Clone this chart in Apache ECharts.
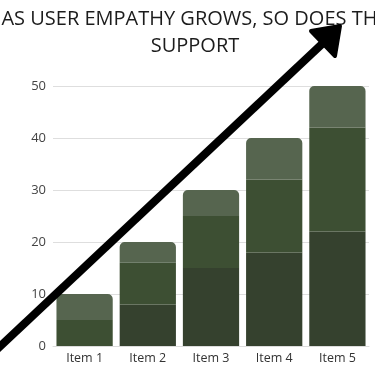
<!DOCTYPE html>
<html>
<head>
<meta charset="utf-8">
<script src="https://cdn.jsdelivr.net/npm/echarts@6/dist/echarts.min.js"></script>
<style>html,body{margin:0;padding:0;background:#fff}#c{width:375px;height:366px}</style>
</head>
<body>
<div id="c"></div>
<script>
const categories = ['Item 1', 'Item 2', 'Item 3', 'Item 4', 'Item 5'];
const seriesBottom = [0, 8, 15, 18, 22];
const seriesMiddle = [5, 8, 10, 14, 20];
const seriesTop = [5, 4, 5, 8, 8];
const yTicks = [0, 10, 20, 30, 40, 50];
const titleText = 'AS USER EMPATHY GROWS, SO DOES THE\nSUPPORT';

const chart = echarts.init(document.getElementById('c'));
const font = '"Open Sans", sans-serif';
chart.setOption({
  animation: false,
  title: {
    text: titleText,
    left: 190, top: 1, textAlign: 'center',
    textStyle: { fontFamily: font, fontSize: 20, fontWeight: 'normal', color: '#1c1c1c', lineHeight: 27 }
  },
  grid: { left: 53, right: 6, top: 86, bottom: 20 },
  xAxis: {
    type: 'category', data: categories,
    axisLine: { lineStyle: { color: '#dcdcdc' } },
    axisTick: { show: false },
    axisLabel: { fontFamily: font, fontSize: 12.5, color: '#333', margin: 6 }
  },
  yAxis: {
    type: 'value', min: yTicks[0], max: yTicks[yTicks.length - 1], interval: 10,
    splitLine: { lineStyle: { color: '#dedede' } },
    axisLine: { show: false }, axisTick: { show: false },
    axisLabel: { fontFamily: font, fontSize: 13, color: '#444', margin: 7 }
  },
  series: [
    { type: 'bar', stack: 's', data: seriesBottom, barCategoryGap: '11%', itemStyle: { color: '#35412e' } },
    { type: 'bar', stack: 's', data: seriesMiddle, itemStyle: { color: '#3d4f33' } },
    { type: 'bar', stack: 's', data: seriesTop, itemStyle: { color: '#56654f', borderRadius: [5, 5, 0, 0] } }
  ],
  graphic: [
    { type: 'line', z: 100, shape: { x1: -8, y1: 354, x2: 322, y2: 44 }, style: { stroke: '#000', lineWidth: 8 } },
    { type: 'polygon', z: 100, shape: { points: [[340, 26], [311, 31], [335, 56]] }, style: { fill: '#000', stroke: '#000', lineWidth: 4, lineJoin: 'round' } }
  ]
});
</script>
</body>
</html>
